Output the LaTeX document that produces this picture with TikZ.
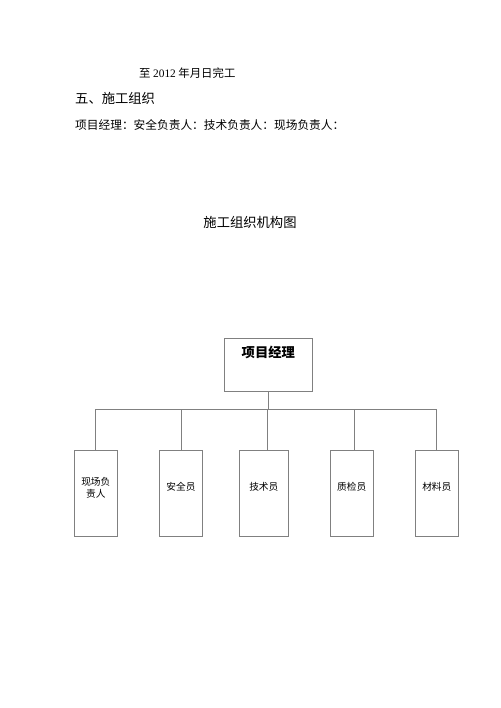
\documentclass[tikz,border=0pt]{standalone}
\usepackage{fontspec}
\setmainfont{Liberation Serif}
\newfontfamily\cjk{Noto Sans CJK SC}
\tikzset{
  box/.style={draw=black!50, line width=0.8pt, fill=white, inner sep=0pt},
  conn/.style={draw=black!50, line width=0.8pt},
  lbl/.style={inner sep=0pt, font=\cjk\fontsize{9.7}{12.3}\selectfont, align=center},
  txt/.style={inner sep=0pt, anchor=west}
}
\begin{document}
\begin{tikzpicture}[x=1pt,y=-1pt]
\useasboundingbox[fill=white] (0,0) rectangle (500,708);
% header text
\node[txt, font=\fontsize{11.4}{14}\selectfont] (l1) at (139,73) {{\cjk 至}\hspace{2.5pt}2012\hspace{2.5pt}{\cjk 年月日完工}};
\node[txt, font=\cjk\fontsize{13.3}{16}\selectfont] (l2) at (75,98.5) {五、施工组织};
\node[txt, font=\cjk\fontsize{11.7}{14}\selectfont] (l3) at (75,125) {项目经理：安全负责人：技术负责人：现场负责人：};
\node[inner sep=0pt, font=\cjk\fontsize{13.3}{16}\selectfont] (title) at (250,222) {施工组织机构图};
% boxes
\node[box, minimum width=88pt, minimum height=52.7pt] (top) at (268.3,364.7) {};
\node[inner sep=0pt, font=\cjk\bfseries\fontsize{13.3}{16}\selectfont] (toptxt) at (268.3,352) {项目经理};
\node[box, minimum width=43pt, minimum height=86.7pt] (b1) at (95.8,493.3) {};
\node[box, minimum width=43.4pt, minimum height=86.7pt] (b2) at (181,493.3) {};
\node[box, minimum width=49pt, minimum height=86.7pt] (b3) at (263.8,493.3) {};
\node[box, minimum width=43.3pt, minimum height=86.7pt] (b4) at (351.7,493.3) {};
\node[box, minimum width=43pt, minimum height=86.7pt] (b5) at (436.8,493.3) {};
\node[lbl] (t1) at (95.8,488) {现场负\\责人};
\node[lbl] (t2) at (181,487) {安全员};
\node[lbl] (t3) at (263.8,487) {技术员};
\node[lbl] (t4) at (351.7,487) {质检员};
\node[lbl] (t5) at (436.8,487) {材料员};
% connectors
\coordinate (bus) at (0,409.3);
\coordinate (p3) at (267.3,450);
\coordinate (p4) at (354,450);
\draw[conn] (top.south) -- (top.south |- bus);
\draw[conn] (b1.north) -- (b1.north |- bus) -- (b5.north |- bus) -- (b5.north);
\draw[conn] (b2.north) -- (b2.north |- bus);
\draw[conn] (p3) -- (p3 |- bus);
\draw[conn] (p4) -- (p4 |- bus);
\end{tikzpicture}
\end{document}
